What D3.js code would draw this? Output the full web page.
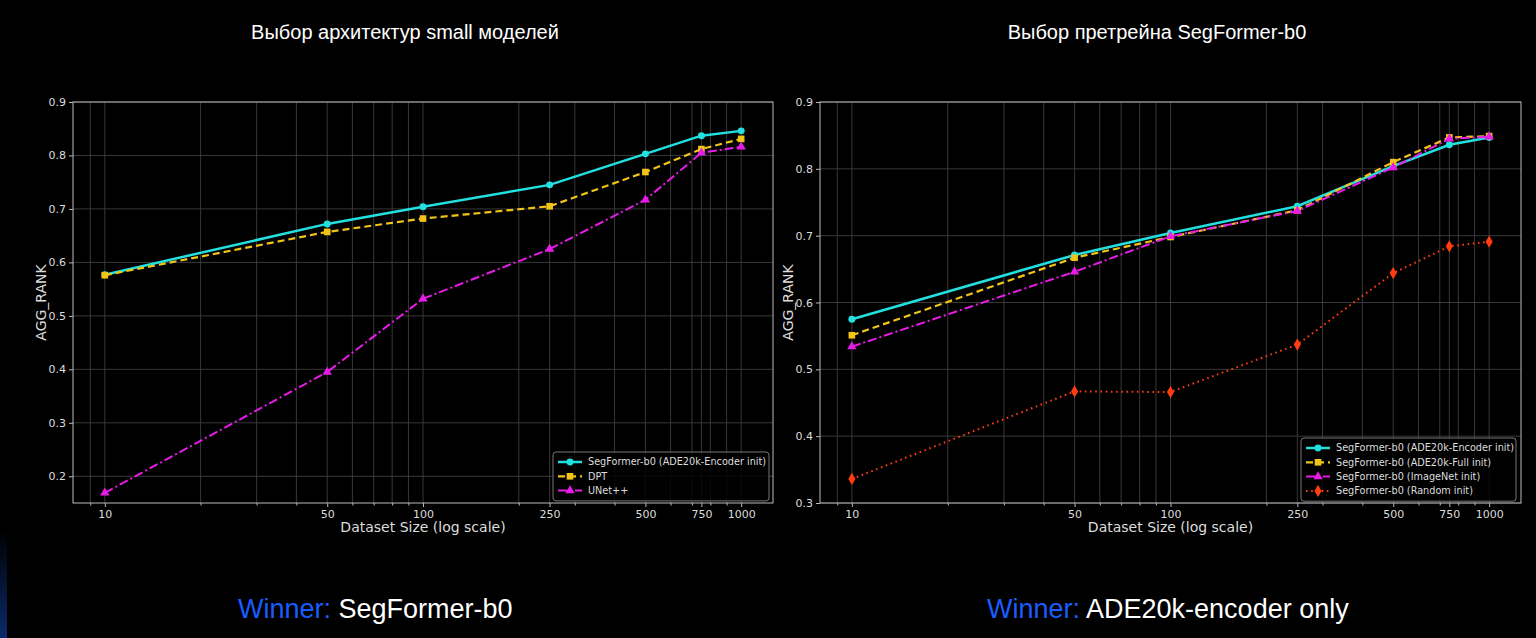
<!DOCTYPE html>
<html>
<head>
<meta charset="utf-8">
<script src="https://cdn.jsdelivr.net/npm/d3@7"></script>
<style>
  html, body { margin: 0; padding: 0; background: #000; }
  svg { display: block; }
</style>
</head>
<body>
<svg id="chart" width="1536" height="638"></svg>
<script>
// dataset sizes (x) and tick labels
const sizes = [10, 50, 100, 250, 500, 750, 1000];
const xTickLabels = ["10", "50", "100", "250", "500", "750", "1000"];
const minorTicks = [9, 20, 30, 40, 60, 70, 80, 90, 200, 300, 400, 600, 700, 800, 900];

// left chart: small model architectures
const leftNames = ["SegFormer-b0 (ADE20k-Encoder init)", "DPT", "UNet++"];
const leftSegFormer = [0.577, 0.672, 0.704, 0.745, 0.803, 0.837, 0.846];
const leftDPT = [0.576, 0.657, 0.682, 0.705, 0.769, 0.812, 0.831];
const leftUNet = [0.169, 0.395, 0.532, 0.625, 0.717, 0.805, 0.816];
const leftYTicks = [0.2, 0.3, 0.4, 0.5, 0.6, 0.7, 0.8, 0.9];

// right chart: SegFormer-b0 pretrain choice
const rightNames = ["SegFormer-b0 (ADE20k-Encoder init)", "SegFormer-b0 (ADE20k-Full init)",
                    "SegFormer-b0 (ImageNet init)", "SegFormer-b0 (Random init)"];
const rightEncoder = [0.575, 0.671, 0.704, 0.744, 0.804, 0.836, 0.847];
const rightFull = [0.551, 0.667, 0.698, 0.738, 0.810, 0.847, 0.849];
const rightImageNet = [0.534, 0.646, 0.699, 0.737, 0.802, 0.845, 0.848];
const rightRandom = [0.336, 0.467, 0.466, 0.537, 0.644, 0.684, 0.691];
const rightYTicks = [0.3, 0.4, 0.5, 0.6, 0.7, 0.8, 0.9];

const styles = {
  cyan:    { color: "#22e0e0", dash: null,      width: 2.5, marker: d3.symbolCircle,   size: 38 },
  yellow:  { color: "#f2c418", dash: "7,4",     width: 2.2, marker: d3.symbolSquare,   size: 44 },
  magenta: { color: "#e81ce8", dash: "9,3,2,3", width: 2.0, marker: d3.symbolTriangle, size: 38 },
  red:     { color: "#ff3d10", dash: "1.6,3.6", width: 2.0, marker: d3.symbolDiamond,  size: 44 }
};

const svg = d3.select("#chart");
const font = "'DejaVu Sans', sans-serif";
const sans = "'Liberation Sans', Arial, sans-serif";

// small blue strip bottom-left
const grad = svg.append("defs").append("linearGradient")
  .attr("id", "strip").attr("x1", 0).attr("y1", 0).attr("x2", 0).attr("y2", 1);
grad.append("stop").attr("offset", "0%").attr("stop-color", "#000");
grad.append("stop").attr("offset", "100%").attr("stop-color", "#0a2a6a");
svg.append("rect").attr("x", 0).attr("y", 530).attr("width", 7).attr("height", 108).attr("fill", "url(#strip)");

function drawChart(opt) {
  const x = d3.scaleLog().domain([Math.pow(10, 0.9), Math.pow(10, 3.1)]).range([opt.left, opt.right]);
  const y = d3.scaleLinear().domain(opt.yDomain).range([opt.bottom, opt.top]);
  const g = svg.append("g");

  // grid
  g.selectAll(".gx").data(sizes.concat(minorTicks)).enter().append("line")
    .attr("x1", d => x(d)).attr("x2", d => x(d))
    .attr("y1", opt.top).attr("y2", opt.bottom)
    .attr("stroke", "#3e3e3e").attr("stroke-width", 0.9);
  g.selectAll(".gy").data(opt.yTicks).enter().append("line")
    .attr("x1", opt.left).attr("x2", opt.right)
    .attr("y1", d => y(d)).attr("y2", d => y(d))
    .attr("stroke", "#3e3e3e").attr("stroke-width", 0.9);

  // axes
  const xAxis = g.append("g").attr("transform", `translate(0,${opt.bottom})`)
    .call(d3.axisBottom(x).tickValues(sizes).tickFormat((d, i) => xTickLabels[i]).tickSizeOuter(0).tickSize(4).tickPadding(3));
  const xMinor = g.append("g").attr("transform", `translate(0,${opt.bottom})`)
    .call(d3.axisBottom(x).tickValues(minorTicks).tickFormat("").tickSizeOuter(0).tickSize(2.5));
  const yAxis = g.append("g").attr("transform", `translate(${opt.left},0)`)
    .call(d3.axisLeft(y).tickValues(opt.yTicks).tickFormat(d3.format(".1f")).tickSizeOuter(0).tickSize(4).tickPadding(3));
  [xAxis, xMinor, yAxis].forEach(a => {
    a.select(".domain").remove();
    a.selectAll("line").attr("stroke", "#bbb");
    a.selectAll("text").attr("fill", "#ddd").style("font-family", font).style("font-size", "11px");
  });

  // frame
  g.append("rect").attr("x", opt.left).attr("y", opt.top)
    .attr("width", opt.right - opt.left).attr("height", opt.bottom - opt.top)
    .attr("fill", "none").attr("stroke", "#bbb").attr("stroke-width", 1);

  // series
  const line = d3.line().x((d, i) => x(sizes[i])).y(d => y(d));
  opt.series.forEach(s => {
    const st = styles[s.style];
    g.append("path").datum(s.values)
      .attr("d", line).attr("fill", "none")
      .attr("stroke", st.color).attr("stroke-width", st.width)
      .attr("stroke-dasharray", st.dash);
    g.selectAll(null).data(s.values).enter().append("path")
      .attr("transform", (d, i) => `translate(${x(sizes[i])},${y(d)})`)
      .attr("d", d3.symbol().type(st.marker).size(st.size))
      .attr("fill", st.color);
  });

  // axis labels
  g.append("text").attr("x", (opt.left + opt.right) / 2).attr("y", opt.bottom + 29)
    .attr("text-anchor", "middle").attr("fill", "#ddd")
    .style("font-family", font).style("font-size", "14px").text("Dataset Size (log scale)");
  g.append("text").attr("transform", `translate(${opt.left - 27},${(opt.top + opt.bottom) / 2}) rotate(-90)`)
    .attr("text-anchor", "middle").attr("fill", "#ddd")
    .style("font-family", font).style("font-size", "14px").text("AGG_RANK");

  // title
  g.append("text").attr("x", opt.titleX).attr("y", 39)
    .attr("text-anchor", "middle").attr("fill", "#fff")
    .style("font-family", sans).style("font-size", "20px").text(opt.title);

  // legend
  const rowH = 14.3;
  const lg = g.append("g");
  lg.append("rect").attr("x", opt.legendX).attr("y", opt.legendY)
    .attr("width", opt.legendW).attr("height", opt.series.length * rowH + 6)
    .attr("rx", 3).attr("fill", "#000").attr("fill-opacity", 0.8)
    .attr("stroke", "#777").attr("stroke-width", 1);
  opt.series.forEach((s, i) => {
    const st = styles[s.style];
    const cy = opt.legendY + 10 + i * rowH;
    const lx = opt.legendX + 5;
    lg.append("line").attr("x1", lx).attr("x2", lx + 24).attr("y1", cy).attr("y2", cy)
      .attr("stroke", st.color).attr("stroke-width", st.width).attr("stroke-dasharray", st.dash);
    lg.append("path").attr("transform", `translate(${lx + 12},${cy})`)
      .attr("d", d3.symbol().type(st.marker).size(st.size)).attr("fill", st.color);
    lg.append("text").attr("x", lx + 30).attr("y", cy).attr("dy", "0.35em")
      .attr("fill", "#ddd").style("font-family", font).style("font-size", "9.7px").text(s.name);
  });

  // winner caption
  const w = g.append("text").attr("x", opt.winnerX).attr("y", 618)
    .style("font-family", sans).style("font-size", "27px");
  w.append("tspan").attr("fill", "#1a5cff").text("Winner: ");
  w.append("tspan").attr("fill", "#fff").text(opt.winner);
}

drawChart({
  left: 73, right: 773, top: 102, bottom: 503,
  yDomain: [0.15, 0.9], yTicks: leftYTicks,
  title: "Выбор архитектур small моделей", titleX: 405,
  legendX: 553, legendY: 452, legendW: 216,
  winnerX: 238, winner: "SegFormer-b0",
  series: [
    { name: leftNames[0], values: leftSegFormer, style: "cyan" },
    { name: leftNames[1], values: leftDPT, style: "yellow" },
    { name: leftNames[2], values: leftUNet, style: "magenta" }
  ]
});

drawChart({
  left: 820, right: 1521, top: 102, bottom: 503,
  yDomain: [0.3, 0.9], yTicks: rightYTicks,
  title: "Выбор претрейна SegFormer-b0", titleX: 1157,
  legendX: 1301, legendY: 438, legendW: 215,
  winnerX: 987, winner: "ADE20k-encoder only",
  series: [
    { name: rightNames[0], values: rightEncoder, style: "cyan" },
    { name: rightNames[1], values: rightFull, style: "yellow" },
    { name: rightNames[2], values: rightImageNet, style: "magenta" },
    { name: rightNames[3], values: rightRandom, style: "red" }
  ]
});
</script>
</body>
</html>
